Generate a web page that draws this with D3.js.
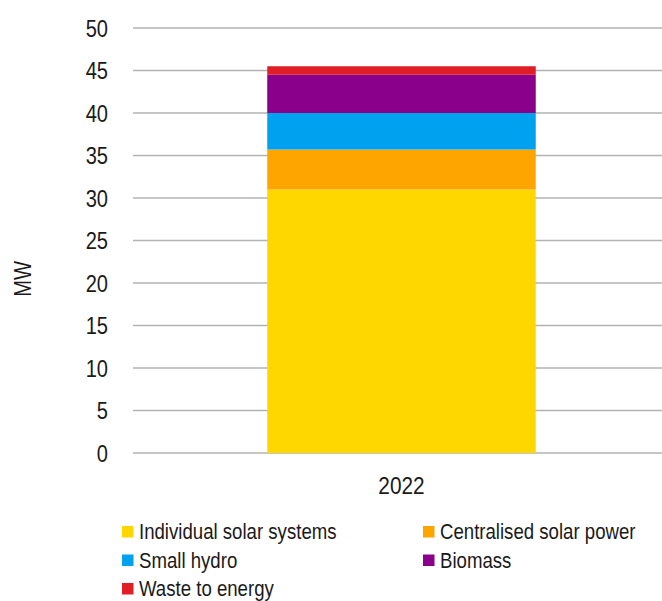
<!DOCTYPE html>
<html>
<head>
<meta charset="utf-8">
<script src="https://cdn.jsdelivr.net/npm/d3@7"></script>
<style>
  body { margin: 0; background: #fff; }
  text { font-family: "Liberation Sans", Arial, sans-serif; fill: #1a1a1a; }
</style>
</head>
<body>
<div id="chart"></div>
<script>
// data
const years = ["2022"];
const seriesNames = ["Individual solar systems", "Centralised solar power", "Small hydro", "Biomass", "Waste to energy"];
const seriesValues = [[31.0], [4.7], [4.3], [4.5], [1.0]];
const seriesColors = ["#FFD700", "#FFA500", "#00A2F0", "#8B008B", "#E01E28"];
const yTicks = [0, 5, 10, 15, 20, 25, 30, 35, 40, 45, 50];

const width = 662, height = 601;
const margin = {top: 28, left: 133, right: -8, bottom: 148};
const narrow = 0.82; // squeeze Liberation Sans to look like the narrow face in the original

const svg = d3.select("#chart").append("svg")
    .attr("width", width)
    .attr("height", height);

const x = d3.scaleBand()
    .domain(years)
    .range([margin.left, width - margin.right])
    .paddingInner(0.5)
    .paddingOuter(0.25);

const y = d3.scaleLinear()
    .domain([0, 50])
    .range([height - margin.bottom, margin.top]);

// gridlines
svg.append("g")
  .selectAll("line")
  .data(yTicks)
  .enter().append("line")
    .attr("x1", margin.left)
    .attr("x2", width)
    .attr("y1", d => y(d))
    .attr("y2", d => y(d))
    .attr("stroke", "#b3b3b3")
    .attr("stroke-width", 1.5);

// y tick labels
svg.append("g")
  .selectAll("text")
  .data(yTicks)
  .enter().append("text")
    .attr("transform", d => "translate(108," + y(d) + ") scale(" + narrow + ",1)")
    .attr("dy", "0.35em")
    .attr("text-anchor", "end")
    .style("font-size", "24.5px")
    .text(d => d);

// stacked bars
const table = years.map((yr, i) => {
  const row = {year: yr};
  seriesNames.forEach((s, j) => { row[s] = seriesValues[j][i]; });
  return row;
});
const stack = d3.stack().keys(seriesNames)(table);

svg.append("g")
  .selectAll("g")
  .data(stack)
  .enter().append("g")
    .attr("fill", (d, i) => seriesColors[i])
  .selectAll("rect")
  .data(d => d)
  .enter().append("rect")
    .attr("x", d => x(d.data.year))
    .attr("width", x.bandwidth())
    .attr("y", d => y(d[1]))
    .attr("height", d => y(d[0]) - y(d[1]));

// x label
svg.append("g")
  .selectAll("text")
  .data(years)
  .enter().append("text")
    .attr("transform", d => "translate(" + (x(d) + x.bandwidth() / 2) + ",494) scale(0.85,1)")
    .attr("text-anchor", "middle")
    .style("font-size", "24.5px")
    .text(d => d);

// y axis title
svg.append("text")
    .attr("transform", "translate(31,279) rotate(-90) scale(" + narrow + ",1)")
    .attr("text-anchor", "middle")
    .style("font-size", "24.5px")
    .text("MW");

// legend
const legend = svg.append("g")
  .selectAll("g")
  .data(seriesNames)
  .enter().append("g")
    .attr("transform", (d, i) => "translate(" + (i % 2 ? 423 : 122) + "," + (531.5 + Math.floor(i / 2) * 28.5) + ")");

legend.append("rect")
    .attr("x", 0)
    .attr("y", -5.5)
    .attr("width", 11.5)
    .attr("height", 11.5)
    .attr("fill", (d, i) => seriesColors[i]);

legend.append("text")
    .attr("transform", "translate(17,7.8) scale(0.81,1)")
    .style("font-size", "23px")
    .text(d => d);
</script>
</body>
</html>
